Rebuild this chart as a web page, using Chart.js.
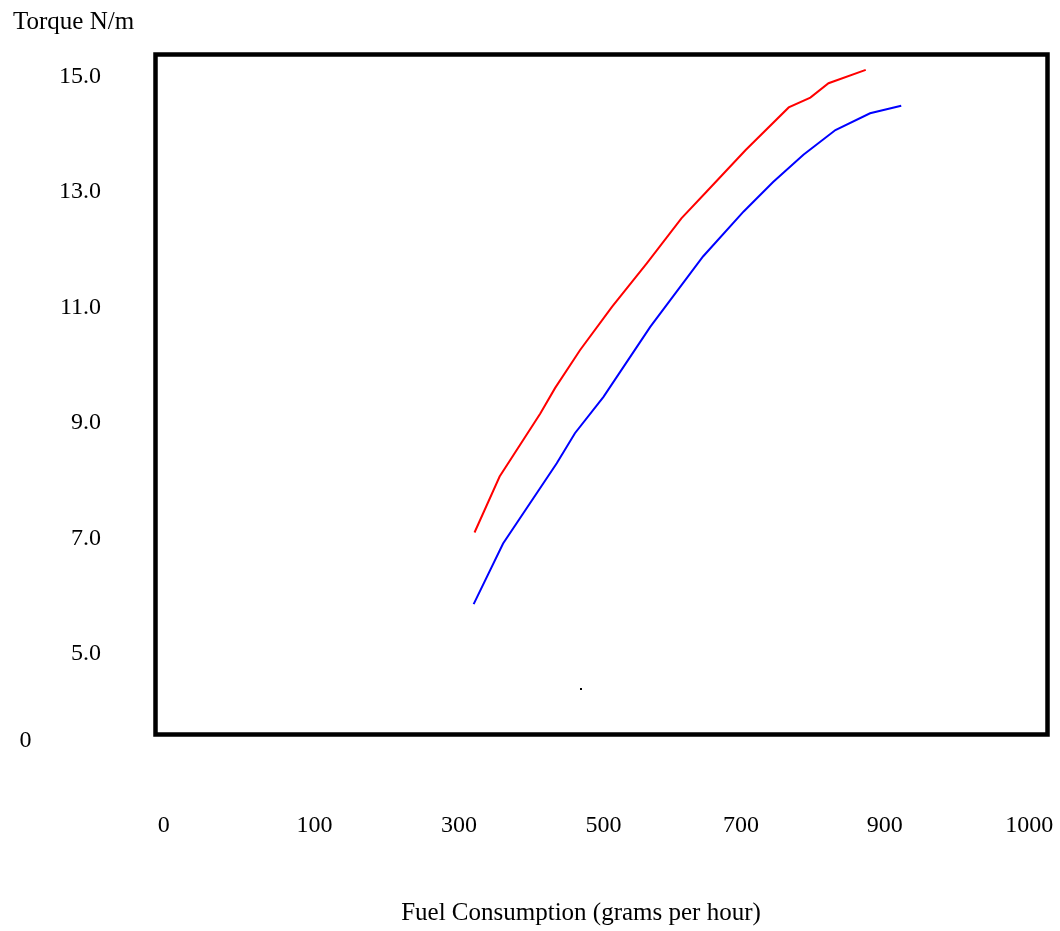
<!DOCTYPE html>
<html>
<head>
<meta charset="utf-8">
<script src="https://cdn.jsdelivr.net/npm/chart.js@4.4.1/dist/chart.umd.min.js"></script>
<style>
    html, body { margin: 0; padding: 0; background: #fff; }
    #wrap { width: 1060px; height: 931px; }
</style>
</head>
<body>
<div id="wrap"><canvas id="torqueChart" width="1060" height="931"></canvas></div>
<script>
// x positions are in axis units where label "0" sits at 0 and "1000" at 1000
const xTickLabels = ['0', '100', '300', '500', '700', '900', '1000'];
const xTickValues = [0, 174, 341, 508, 667, 833, 1000];
const yTickValues = [5, 7, 9, 11, 13, 15];
const originLabel = '0';
const originValue = 3.50;

const redX = [359, 388, 435, 452, 481, 518, 558, 598, 627, 672, 722, 747, 768, 811];
const redY = [7.10, 8.07, 9.16, 9.60, 10.26, 11.01, 11.76, 12.54, 13.00, 13.72, 14.46, 14.63, 14.88, 15.11];

const blueX = [358, 392, 454, 475, 508, 562, 623, 670, 704, 739, 776, 816, 852];
const blueY = [5.86, 6.91, 8.30, 8.82, 9.45, 10.66, 11.88, 12.66, 13.17, 13.64, 14.07, 14.36, 14.49];

// the lone dot under the curves
const dotX = [482];
const dotY = [4.39];

const yTitle = 'Torque N/m';
const xTitle = 'Fuel Consumption (grams per hour)';

const toPoints = (xs, ys) => xs.map((x, i) => ({x: x, y: ys[i]}));

const serif = "'Liberation Serif', 'Times New Roman', serif";

const noPadding = (scale) => {
    scale.paddingLeft = 0;
    scale.paddingRight = 0;
    scale.paddingTop = 0;
    scale.paddingBottom = 0;
};

const framePlugin = {
    id: 'frame',
    afterDraw(chart) {
        const {ctx, chartArea, scales} = chart;
        ctx.save();
        ctx.strokeStyle = '#000';
        ctx.lineWidth = 4.5;
        ctx.strokeRect(chartArea.left, chartArea.top,
            chartArea.right - chartArea.left, chartArea.bottom - chartArea.top);

        ctx.fillStyle = '#000';
        ctx.font = '25px ' + serif;
        ctx.textBaseline = 'alphabetic';
        ctx.textAlign = 'left';
        ctx.fillText(yTitle, 13, 29);

        ctx.textAlign = 'center';
        ctx.fillText(xTitle, 581, 920);

        ctx.font = '24px ' + serif;
        ctx.textBaseline = 'middle';
        ctx.fillText(originLabel, 25.5, scales.y.getPixelForValue(originValue));
        ctx.restore();
    }
};

const ctx = document.getElementById('torqueChart').getContext('2d');
new Chart(ctx, {
    type: 'scatter',
    data: {
        datasets: [
            {
                label: 'red',
                data: toPoints(redX, redY),
                showLine: true,
                borderColor: '#ff0000',
                borderWidth: 2,
                pointRadius: 0,
                tension: 0,
                fill: false
            },
            {
                label: 'blue',
                data: toPoints(blueX, blueY),
                showLine: true,
                borderColor: '#0000ff',
                borderWidth: 2,
                pointRadius: 0,
                tension: 0,
                fill: false
            },
            {
                label: 'dot',
                data: toPoints(dotX, dotY),
                pointStyle: 'rect',
                pointRadius: 1.4,
                backgroundColor: '#000',
                borderColor: '#000',
                borderWidth: 0
            }
        ]
    },
    options: {
        responsive: false,
        animation: false,
        layout: {
            padding: {top: 54.5, right: 12.5, bottom: 0, left: 0}
        },
        plugins: {
            legend: {display: false},
            tooltip: {enabled: false}
        },
        scales: {
            x: {
                type: 'linear',
                min: -9.6,
                max: 1021,
                grid: {display: false, drawTicks: false},
                border: {display: false},
                afterBuildTicks: (scale) => {
                    scale.ticks = xTickValues.map(v => ({value: v}));
                },
                afterFit: (scale) => {
                    scale.height = 196.5;
                    noPadding(scale);
                },
                ticks: {
                    autoSkip: false,
                    maxRotation: 0,
                    padding: 77,
                    color: '#000',
                    font: {family: serif, size: 24},
                    callback: (value, index) => xTickLabels[index]
                }
            },
            y: {
                type: 'linear',
                min: 3.603,
                max: 15.377,
                grid: {display: false, drawTicks: false},
                border: {display: false},
                afterBuildTicks: (scale) => {
                    scale.ticks = yTickValues.map(v => ({value: v}));
                },
                afterFit: (scale) => {
                    scale.width = 155.5;
                    noPadding(scale);
                },
                ticks: {
                    autoSkip: false,
                    padding: 54.5,
                    color: '#000',
                    font: {family: serif, size: 24},
                    callback: (value) => value.toFixed(1)
                }
            }
        }
    },
    plugins: [framePlugin]
});
</script>
</body>
</html>
